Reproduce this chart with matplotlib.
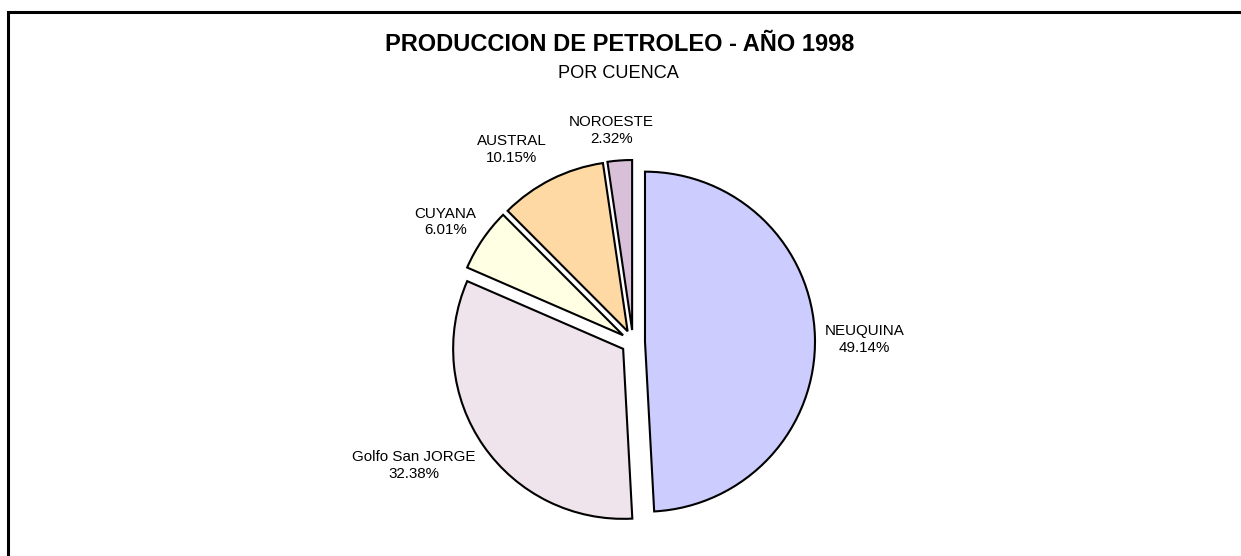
import matplotlib.pyplot as plt
import numpy as np
from matplotlib.patches import Rectangle

plt.rcParams["font.family"] = ["Liberation Sans", "DejaVu Sans"]

# data
cuencas = ["NEUQUINA", "Golfo San JORGE", "CUYANA", "AUSTRAL", "NOROESTE"]
porcentajes = [49.14, 32.38, 6.01, 10.15, 2.32]
colores = ["#CCCCFF", "#F0E4EC", "#FFFFE4", "#FFD9A4", "#D9C0D9"]

W, H = 1241, 556
fig = plt.figure(figsize=(W / 100, H / 100), dpi=100)
ax = fig.add_axes([0, 0, 1, 1])

# frame only shows top and left edges (rest cut off)
fig.patches.append(Rectangle((7.5 / W, -0.1), 1.2, (H - 11.5) / H + 0.1,
                             transform=fig.transFigure, fill=False,
                             edgecolor="black", lw=2.2))

cx, cy, r = 633, H - 342, 170
gap = 12  # explode offset, pixels
wedges, _ = ax.pie(
    porcentajes,
    colors=colores,
    startangle=90,
    counterclock=False,
    explode=[gap] * len(porcentajes),
    radius=r,
    center=(cx, cy),
    wedgeprops=dict(edgecolor="black", linewidth=1.5),
    frame=True,
)
ax.set_xlim(0, W)
ax.set_ylim(0, H)
ax.set_aspect("equal")
ax.axis("off")

# label distance (in radii) per slice, angle tweak in degrees
label_dist = [1.36, 1.48, 1.31, 1.34, 1.25]
label_tweak = [-1, -5.5, 1.7, 5.6, 1.7]
for w, name, pct, d, t in zip(wedges, cuencas, porcentajes, label_dist, label_tweak):
    ang = np.deg2rad((w.theta1 + w.theta2) / 2 + t)
    x = cx + d * r * np.cos(ang)
    y = cy + d * r * np.sin(ang)
    ax.text(x, y, f"{name}\n{pct:.2f}%", ha="center", va="center",
            fontsize=10.9, linespacing=1.25)

fig.text(619.5 / W, 1 - 45 / H, "PRODUCCION DE PETROLEO - AÑO 1998",
         ha="center", va="center", fontsize=17, fontweight="bold")
fig.text(618.5 / W, 1 - 73 / H, "POR CUENCA", ha="center", va="center",
         fontsize=13.1)

fig.savefig("out.png", dpi=100, facecolor="white")
